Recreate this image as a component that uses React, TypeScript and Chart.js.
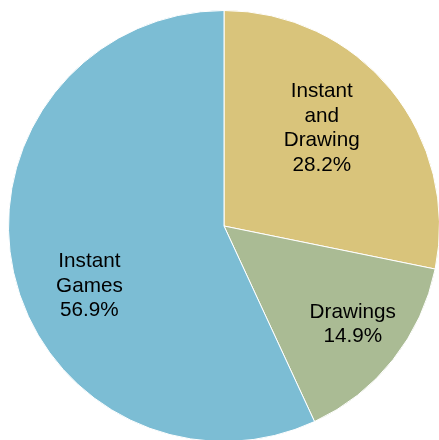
import React, { useEffect, useRef } from "react";
import { Chart, registerables } from "chart.js";

Chart.register(...registerables);

const categories: string[][] = [
  ["Instant", "and", "Drawing"],
  ["Drawings"],
  ["Instant", "Games"],
];
const values: number[] = [28.2, 14.9, 56.9];
const colors: string[] = ["#D9C47B", "#AABB94", "#7CBDD4"];
// label placement within each slice: fraction of slice angle, fraction of radius
const labelAngleFrac: number[] = [0.44, 0.477, 0.445];
const labelRadiusFrac: number[] = [0.645, 0.749, 0.682];

const labelPlugin = {
  id: "sliceLabels",
  afterDatasetsDraw(chart: any) {
    const meta = chart.getDatasetMeta(0);
    const ctx = chart.ctx;
    const total = values.reduce((a, b) => a + b, 0);
    ctx.save();
    ctx.fillStyle = "#000";
    ctx.font = '20.7px "Liberation Sans", Arial, sans-serif';
    ctx.textAlign = "center";
    ctx.textBaseline = "middle";
    const lh = 24.5;
    meta.data.forEach((arc: any, i: number) => {
      const p = arc.getProps(["x", "y", "startAngle", "endAngle", "outerRadius"], true);
      const a = p.startAngle + labelAngleFrac[i] * (p.endAngle - p.startAngle);
      const r = p.outerRadius * labelRadiusFrac[i];
      const cx = p.x + r * Math.cos(a);
      const cy = p.y + r * Math.sin(a);
      const lines = [...categories[i], ((values[i] / total) * 100).toFixed(1) + "%"];
      lines.forEach((t, j) => {
        ctx.fillText(t, cx, cy + (j - (lines.length - 1) / 2) * lh + 1);
      });
    });
    ctx.restore();
  },
};

export default function App() {
  const ref = useRef<HTMLCanvasElement>(null);
  useEffect(() => {
    if (!ref.current) return;
    const chart = new Chart(ref.current, {
      type: "pie",
      data: {
        labels: categories.map((c) => c.join(" ")),
        datasets: [
          {
            data: values,
            backgroundColor: colors,
            borderColor: "#ffffff",
            borderWidth: 1,
          },
        ],
      },
      options: {
        responsive: false,
        animation: false,
        layout: { padding: 0 },
        plugins: {
          legend: { display: false },
          tooltip: { enabled: false },
        },
      },
      plugins: [labelPlugin],
    });
    return () => chart.destroy();
  }, []);
  return (
    <div style={{ position: "fixed", left: 8, top: 10, width: 432, height: 432 }}>
      <canvas ref={ref} width={432} height={432} />
    </div>
  );
}
